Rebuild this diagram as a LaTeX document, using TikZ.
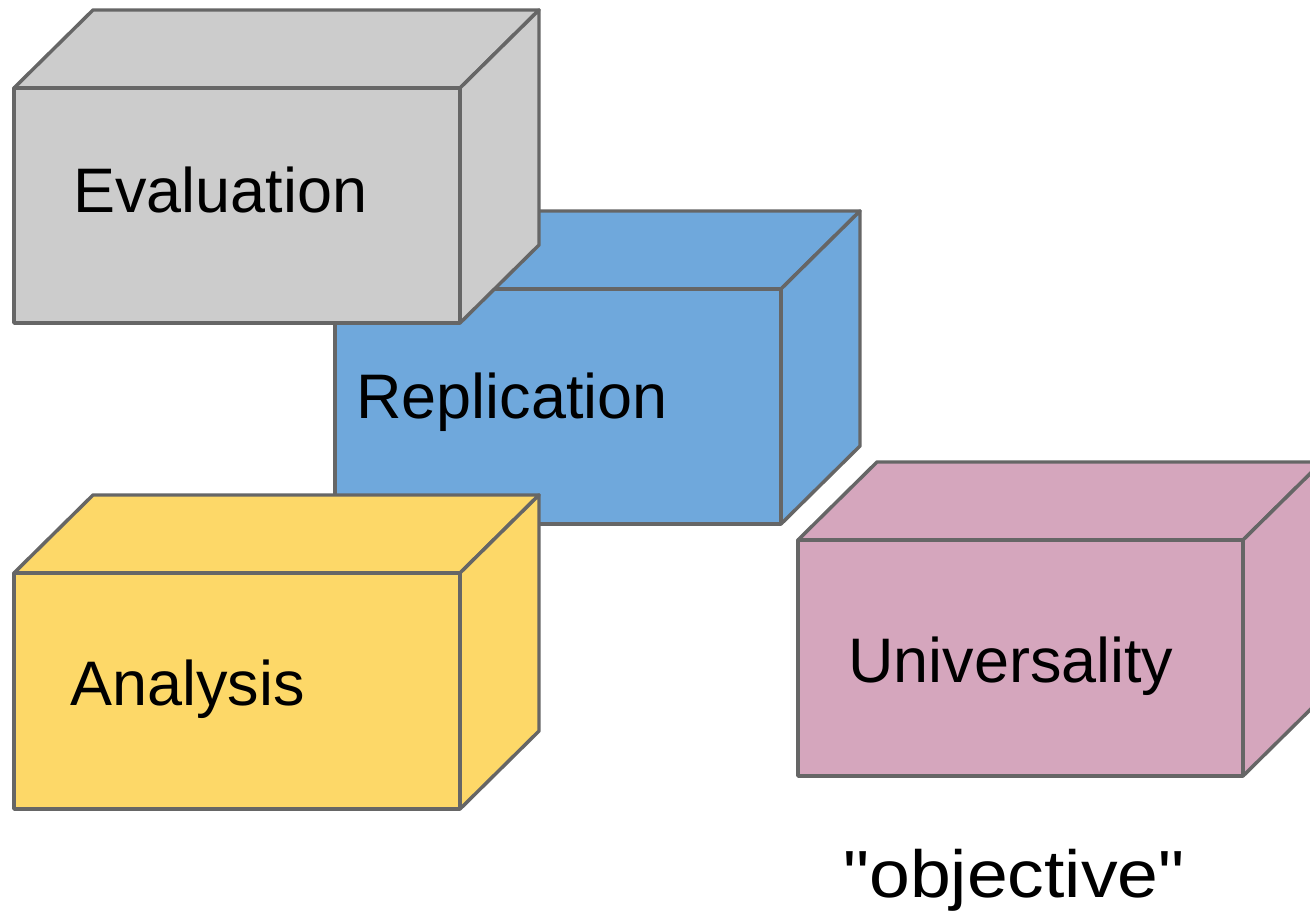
\documentclass[tikz,border=0pt]{standalone}
\usepackage{fontspec}
\setmainfont{Liberation Sans}[Ligatures=TeXOff]
\definecolor{edge}{HTML}{666666}
\definecolor{greyface}{HTML}{CCCCCC}
\definecolor{blueface}{HTML}{6FA8DC}
\definecolor{yellowface}{HTML}{FDD868}
\definecolor{pinkface}{HTML}{D5A6BD}
\tikzset{
  cube/.style={draw=edge, line width=2.6pt, line join=round},
  label/.style={anchor=base west, inner sep=0pt, font=\fontsize{47.2}{56}\selectfont},
  caption/.style={anchor=base west, inner sep=0pt, font=\fontsize{50}{60}\selectfont}
}
% front face top-left corner (x,y), width, height, fill colour; depth is (79,-78)
\newcommand\drawcuboid[5]{%
  \filldraw[cube, fill=#5] (#1,#2) -- ++(79,-78) -- ++(#3,0) -- ++(-79,78) -- cycle;
  \filldraw[cube, fill=#5] (#1+#3,#2) -- ++(79,-78) -- ++(0,#4) -- ++(-79,78) -- cycle;
  \filldraw[cube, fill=#5] (#1,#2) rectangle ++(#3,#4);
}
\begin{document}
\begin{tikzpicture}[x=0.75pt, y=-0.75pt]
  \useasboundingbox (0,0) rectangle (1310,918);
  \clip (0,0) rectangle (1310,918);
  % blue box sits behind the grey and yellow ones
  \drawcuboid{335}{289}{446}{235}{blueface}
  \node[label] (replication) at (356,418) {Replication};
  \drawcuboid{14}{88}{446}{235}{greyface}
  \node[label] (evaluation) at (73,212) {Evaluation};
  \drawcuboid{14}{573}{446}{236}{yellowface}
  \node[label] (analysis) at (70,705) {Analysis};
  \drawcuboid{798}{540}{445}{236}{pinkface}
  \node[label] (universality) at (848,682) {Universality};
  \node[caption] (objective) at (843,897) {\scalebox{1.1}[1]{"objective"}};
\end{tikzpicture}
\end{document}
